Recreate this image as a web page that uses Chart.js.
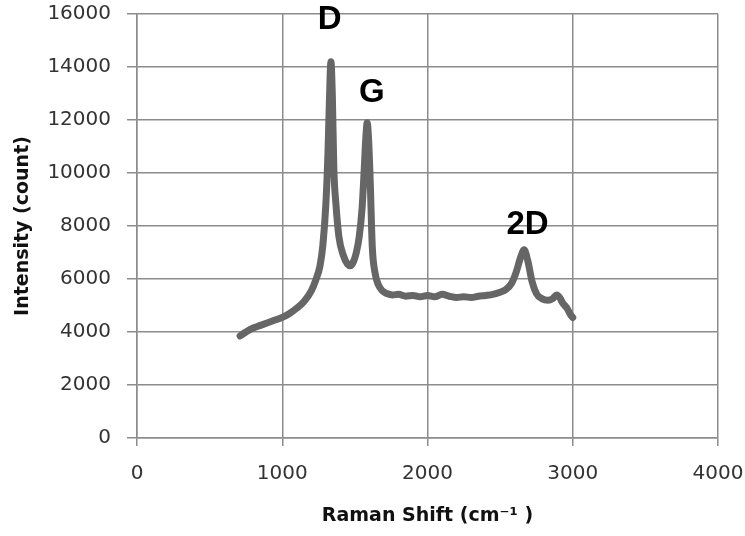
<!DOCTYPE html>
<html>
<head>
<meta charset="utf-8">
<script src="https://cdn.jsdelivr.net/npm/chart.js@4"></script>
<style>
  html, body { margin: 0; padding: 0; background: #fff; }
  #wrap { width: 745px; height: 536px; }
</style>
</head>
<body>
<div id="wrap"><canvas id="raman"></canvas></div>
<script>
// Raman spectrum
const ramanShift = [710, 750, 800, 850, 900, 950, 1000, 1050, 1100, 1150, 1200, 1230, 1260, 1280, 1300, 1315, 1325, 1335, 1345, 1355, 1370, 1390, 1420, 1450, 1470, 1490, 1510, 1530, 1550, 1565, 1575, 1585, 1595, 1605, 1620, 1640, 1660, 1690, 1720, 1760, 1800, 1850, 1900, 1950, 2000, 2050, 2100, 2150, 2200, 2250, 2300, 2350, 2400, 2450, 2500, 2540, 2580, 2610, 2640, 2665, 2690, 2720, 2750, 2790, 2830, 2860, 2890, 2910, 2930, 2960, 2985, 3000];
const intensity = [3850, 4000, 4150, 4250, 4350, 4450, 4550, 4700, 4900, 5150, 5550, 5950, 6500, 7300, 8800, 10800, 12800, 14200, 12900, 10200, 8800, 7600, 6900, 6550, 6500, 6650, 7000, 7600, 8700, 10200, 11300, 11900, 11200, 9800, 7200, 6200, 5800, 5550, 5450, 5400, 5420, 5350, 5380, 5330, 5380, 5330, 5420, 5350, 5300, 5330, 5300, 5350, 5380, 5420, 5500, 5600, 5850, 6250, 6800, 7100, 6700, 5900, 5450, 5250, 5200, 5250, 5400, 5300, 5100, 4900, 4650, 4550];

// peak labels (name, raman shift, intensity where the text sits)
const peakNames = ['D', 'G', '2D'];
const peakX = [1327, 1616, 2689];
const peakY = [15780, 13030, 8050];

const points = ramanShift.map((x, i) => ({ x: x, y: intensity[i] }));

const gridGrey = '#8c8c8c';
const tickFont = { family: 'DejaVu Sans', size: 20 };
const titleFont = { family: 'DejaVu Sans', size: 19, weight: 'bold' };

const peakLabelPlugin = {
  id: 'peakLabels',
  afterDatasetsDraw(chart) {
    const ctx = chart.ctx;
    const xs = chart.scales.x, ys = chart.scales.y;
    ctx.save();
    ctx.fillStyle = '#000';
    ctx.font = 'bold 33px "Liberation Sans", Arial, sans-serif';
    ctx.textAlign = 'center';
    ctx.textBaseline = 'middle';
    peakNames.forEach((name, i) => {
      ctx.fillText(name, xs.getPixelForValue(peakX[i]), ys.getPixelForValue(peakY[i]));
    });
    ctx.restore();
  }
};

new Chart(document.getElementById('raman').getContext('2d'), {
  type: 'scatter',
  data: {
    datasets: [{
      data: points,
      showLine: true,
      borderColor: '#666666',
      borderWidth: 7,
      borderJoinStyle: 'round',
      borderCapStyle: 'round',
      pointRadius: 0,
      cubicInterpolationMode: 'monotone',
    }],
  },
  options: {
    responsive: true,
    maintainAspectRatio: false,
    animation: false,
    layout: { padding: { top: 14, right: 27, left: 0, bottom: 0 } },
    plugins: {
      legend: { display: false },
      tooltip: { enabled: false },
    },
    scales: {
      x: {
        type: 'linear',
        min: 0,
        max: 4000,
        ticks: { stepSize: 1000, color: '#333', font: tickFont, padding: 16, callback: v => String(v) },
        grid: { color: gridGrey, lineWidth: 1.5, tickLength: 8, tickColor: gridGrey },
        border: { color: gridGrey, width: 1.5 },
        title: {
          display: true,
          text: 'Raman Shift (cm\u207B\u00B9 )',
          color: '#111',
          font: titleFont,
          padding: { top: 4, bottom: 9 },
        },
        afterFit(scale) {
          scale.height = 98;
          scale.paddingLeft = 0;
          scale.paddingRight = 0;
        },
      },
      y: {
        min: 0,
        max: 16000,
        ticks: { stepSize: 2000, color: '#333', font: tickFont, padding: 16, callback: v => String(v) },
        grid: { color: gridGrey, lineWidth: 1.5, tickLength: 10, tickColor: gridGrey },
        border: { color: gridGrey, width: 1.5 },
        title: {
          display: true,
          text: 'Intensity (count)',
          color: '#111',
          font: titleFont,
          padding: { top: 12, bottom: 0 },
        },
        afterFit(scale) {
          scale.width = 137;
          scale.paddingTop = 0;
          scale.paddingBottom = 0;
        },
      },
    },
  },
  plugins: [peakLabelPlugin],
});
</script>
</body>
</html>
